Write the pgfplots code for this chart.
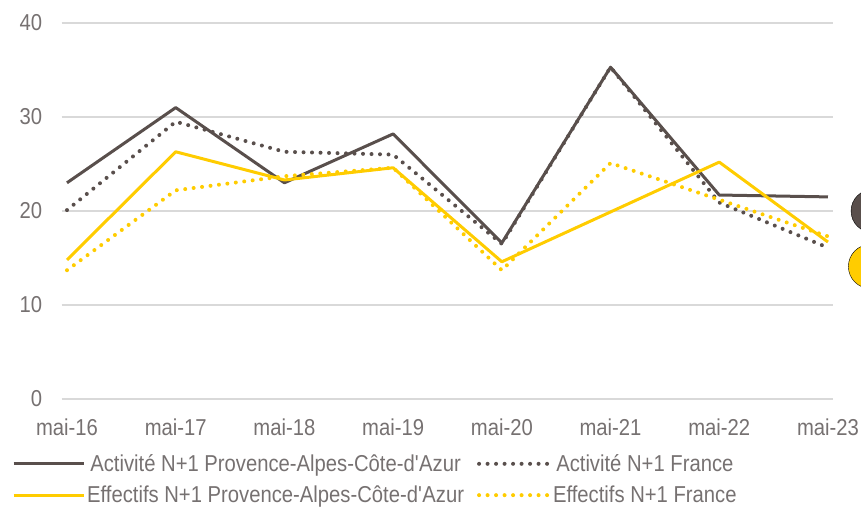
\documentclass[border=0pt]{standalone}
\usepackage{fontspec}
\setmainfont{Liberation Sans}[FakeStretch=0.88]
\usepackage{pgfplots}
\pgfplotsset{compat=1.18}
\definecolor{darkb}{RGB}{89,79,76}
\definecolor{yel}{RGB}{255,204,0}
\definecolor{gridc}{RGB}{217,217,217}
\definecolor{txt}{RGB}{118,113,113}
\begin{document}
\begin{tikzpicture}
\begin{axis}[
  anchor=origin, at={(0pt,0pt)},
  x=108.71pt, y=9.4pt,
  scale only axis,
  xmin=-0.05, xmax=7.05, ymin=0, ymax=40,
  axis line style={draw=none},
  tick style={draw=none},
  ytick={0,10,20,30,40},
  xtick={0,...,7},
  xticklabels={mai-16,mai-17,mai-18,mai-19,mai-20,mai-21,mai-22,mai-23},
  ymajorgrids, grid style={gridc, line width=1.5pt},
  font=\fontsize{23}{26}\selectfont,
  /pgf/number format/assume math mode=true,
  ticklabel style={text=txt},
  yticklabel style={anchor=east, xshift=-16pt},
  xticklabel style={yshift=-16pt},
  clip=false,
  legend columns=2,
  legend style={draw=none, fill=none, inner sep=0pt, at={(-0.0643,-0.142)}, anchor=north west,
    font=\fontsize{23}{26}\selectfont, text=txt,
    /tikz/every even column/.append style={column sep=11pt},
    row sep=9pt},
  legend image code/.code={\draw[#1] (0pt,0pt) -- (70pt,0pt);},
]
\addplot[darkb, line width=3pt, line join=round] coordinates {(0,23.0) (1,31.0) (2,23.0) (3,28.2) (4,16.6) (5,35.3) (6,21.7) (7,21.5)};
\addlegendentry{Activité N+1 Provence-Alpes-Côte-d\textquotesingle Azur}
\addplot[darkb, line width=4pt, line cap=round, dash pattern=on 0pt off 8.5pt] coordinates {(0,20.1) (1,29.5) (2,26.3) (3,26.0) (4,16.5) (5,35.3) (6,20.9) (7,16.1)};
\addlegendentry{Activité N+1 France}
\addplot[yel, line width=3pt, line join=round] coordinates {(0,14.8) (1,26.3) (2,23.3) (3,24.6) (4,14.6) (5,19.9) (6,25.2) (7,16.7)};
\addlegendentry{Effectifs N+1 Provence-Alpes-Côte-d\textquotesingle Azur}
\addplot[yel, line width=4pt, line cap=round, dash pattern=on 0pt off 8.5pt] coordinates {(0,13.7) (1,22.2) (2,23.7) (3,24.6) (4,13.7) (5,25.1) (6,21.2) (7,17.3)};
\addlegendentry{Effectifs N+1 France}
\addplot[only marks, mark=*, mark size=21.5pt, draw=none, fill=darkb, forget plot] coordinates {(7.41,20.0)};
\addplot[only marks, mark=*, mark size=22pt, draw=none, fill=yel, forget plot] coordinates {(7.39,14.1)};
\end{axis}
\pgfresetboundingbox
\path[use as bounding box] (-67pt,-108pt) rectangle (794pt,399pt);
\end{tikzpicture}
\end{document}
